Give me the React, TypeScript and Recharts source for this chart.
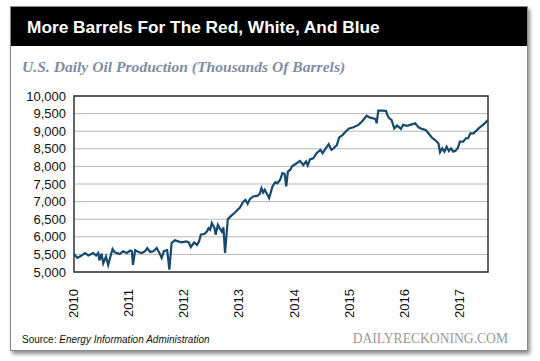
import React from 'react';
import { LineChart, Line, XAxis, YAxis, CartesianGrid, ReferenceArea } from 'recharts';

// fractional year of each reading
const years = [
  2010.0, 2010.06, 2010.13, 2010.2, 2010.26, 2010.35, 2010.4, 2010.44, 2010.46, 2010.5,
  2010.53, 2010.58, 2010.62, 2010.67, 2010.7, 2010.74, 2010.83, 2010.89, 2010.96, 2011.02,
  2011.05, 2011.07, 2011.11, 2011.17, 2011.23, 2011.29, 2011.33, 2011.38, 2011.44, 2011.5,
  2011.55, 2011.59, 2011.63, 2011.69, 2011.73, 2011.77, 2011.83, 2011.89, 2011.95, 2012.04,
  2012.08, 2012.12, 2012.18, 2012.23, 2012.27, 2012.3, 2012.37, 2012.41, 2012.44, 2012.47,
  2012.5, 2012.55, 2012.57, 2012.61, 2012.65, 2012.68, 2012.71, 2012.74, 2012.79, 2012.85,
  2012.92, 2013.01, 2013.07, 2013.11, 2013.15, 2013.19, 2013.25, 2013.33, 2013.37, 2013.4,
  2013.43, 2013.46, 2013.51, 2013.54, 2013.6, 2013.65, 2013.69, 2013.74, 2013.78, 2013.82,
  2013.85, 2013.88, 2013.92, 2013.96, 2014.04, 2014.1, 2014.16, 2014.21, 2014.24, 2014.28,
  2014.34, 2014.4, 2014.47, 2014.51, 2014.56, 2014.62, 2014.67, 2014.71, 2014.77, 2014.81,
  2014.87, 2014.93, 2014.99, 2015.07, 2015.16, 2015.22, 2015.31, 2015.37, 2015.43, 2015.47,
  2015.49, 2015.52, 2015.61, 2015.66, 2015.69, 2015.72, 2015.76, 2015.81, 2015.86, 2015.9,
  2015.93, 2015.97, 2016.04, 2016.1, 2016.19, 2016.25, 2016.31, 2016.38, 2016.43, 2016.49,
  2016.55, 2016.61, 2016.64, 2016.68, 2016.72, 2016.76, 2016.8, 2016.84, 2016.88, 2016.92,
  2016.96, 2017.0, 2017.06, 2017.11, 2017.15, 2017.19, 2017.25, 2017.34, 2017.43, 2017.51,
];

// thousands of barrels per day
const production = [
  5510, 5400, 5460, 5540, 5470, 5540, 5470, 5540, 5330, 5520,
  5250, 5440, 5200, 5490, 5650, 5560, 5510, 5590, 5540, 5610,
  5590, 5200, 5620, 5570, 5540, 5590, 5680, 5570, 5590, 5680,
  5540, 5400, 5590, 5620, 5065, 5820, 5900, 5870, 5840, 5870,
  5840, 5710, 5840, 5765, 5870, 6060, 6085, 6150, 6245, 6200,
  6390, 6245, 6060, 6340, 6220, 6150, 6270, 5540, 6500, 6595,
  6690, 6830, 7000, 7050, 6935, 7070, 7145, 7170, 7220, 7380,
  7260, 7335, 7190, 7100, 7430, 7550, 7520, 7620, 7810, 7790,
  7430, 7850, 7900, 8010, 8090, 8155, 8040, 8140, 8025, 8200,
  8230, 8375, 8470, 8375, 8495, 8630, 8470, 8515, 8610, 8825,
  8890, 8990, 9080, 9110, 9180, 9270, 9440, 9385, 9365, 9345,
  9225, 9585, 9585, 9575, 9440, 9365, 9320, 9080, 9160, 9110,
  9065, 9180, 9150, 9180, 9225, 9110, 9065, 9035, 8940, 8820,
  8750, 8655, 8400, 8515, 8420, 8560, 8440, 8515, 8420, 8440,
  8515, 8705, 8705, 8800, 8800, 8940, 8940, 9080, 9195, 9320,
];

const yearTicks = [2010, 2011, 2012, 2013, 2014, 2015, 2016, 2017];
const valueTicks = [5000, 5500, 6000, 6500, 7000, 7500, 8000, 8500, 9000, 9500, 10000];

const data = years.map((y, i) => ({ year: y, value: production[i] }));

const sans = '"Liberation Sans", Arial, sans-serif';
const serif = '"Liberation Serif", "Times New Roman", serif';

const YearTick = (props: any) => {
  const { x, y, payload } = props;
  return (
    <text
      transform={`translate(${x + 4},${y + 9}) rotate(-90)`}
      textAnchor="end"
      fontFamily={sans}
      fontSize={13}
      fill="#111"
    >
      {payload.value}
    </text>
  );
};

export default function App() {
  return (
    <div style={{ position: 'absolute', left: 0, top: 0, width: 540, height: 361, background: '#fff' }}>
      {/* card */}
      <div
        style={{
          position: 'absolute', left: 10, top: 6, width: 516, height: 343,
          border: '1px solid #8a8a8a', background: '#fff',
          boxShadow: '2px 3px 4px rgba(0,0,0,0.45)',
        }}
      />
      <div style={{ position: 'absolute', left: 11, top: 7, width: 516, height: 39, background: '#000' }} />
      <svg width={540} height={361} style={{ position: 'absolute', left: 0, top: 0 }}>
        <text x={27} y={33} fill="#fff" fontFamily={sans} fontWeight="bold" fontSize={17.3}>
          More Barrels For The Red, White, And Blue
        </text>
        <text x={22} y={72} fill="#7f8ca6" fontFamily={serif} fontWeight="bold" fontStyle="italic" fontSize={15.6}>
          U.S. Daily Oil Production (Thousands Of Barrels)
        </text>
        <text x={22} y={343} fill="#111" fontFamily={sans} fontSize={10}>
          Source: <tspan fontStyle="italic">Energy Information Administration</tspan>
        </text>
        <text x={508} y={343} textAnchor="end" fill="#999" fontFamily={serif} fontSize={13.6}>
          DAILYRECKONING.COM
        </text>
      </svg>
      <div style={{ position: 'absolute', left: 0, top: 0 }}>
        <LineChart width={540} height={361} data={data} margin={{ top: 96, right: 52, bottom: 49, left: 14 }}>
          <CartesianGrid vertical={false} stroke="#b8b8b8" strokeWidth={1} />
          <XAxis
            dataKey="year"
            type="number"
            domain={[2010, 2017.51]}
            ticks={yearTicks}
            interval={0}
            height={40}
            axisLine={false}
            tickLine={false}
            tick={<YearTick />}
          />
          <YAxis
            type="number"
            domain={[5000, 10000]}
            ticks={valueTicks}
            interval={0}
            width={60}
            axisLine={false}
            tickLine={false}
            tick={{ fontFamily: sans, fontSize: 13, fill: '#111' }}
            tickFormatter={(v: number) => v.toLocaleString('en-US')}
          />
          <ReferenceArea x1={2010} x2={2017.51} y1={5000} y2={10000} fill="none" stroke="#333" strokeWidth={1.5} ifOverflow="extendDomain" />
          <Line
            type="linear"
            dataKey="value"
            stroke="#154a6e"
            strokeWidth={2.2}
            dot={false}
            isAnimationActive={false}
          />
        </LineChart>
      </div>
    </div>
  );
}
